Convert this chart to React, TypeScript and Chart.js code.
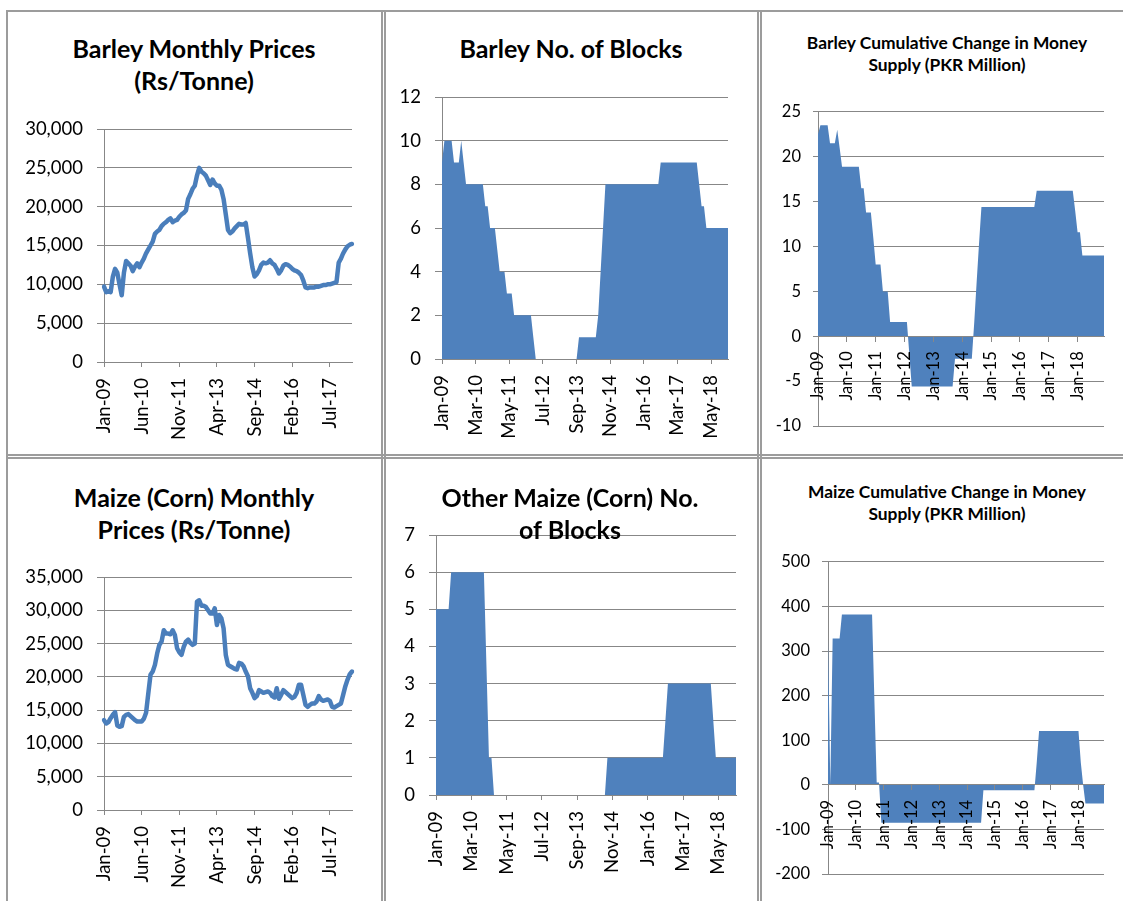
import React, { useEffect, useRef } from "react";
import { Chart, registerables } from "chart.js";
Chart.register(...registerables);

const FONT = "Lato, 'Open Sans', sans-serif";
const GRID = "#878787";
const LINE_BLUE = "#4a7ebb";
const AREA_BLUE = "#4f81bd";
const BORDER = "#9c9c9c";

const MONTHS = ["Jan", "Feb", "Mar", "Apr", "May", "Jun", "Jul", "Aug", "Sep", "Oct", "Nov", "Dec"];
function monthLabels(n: number): string[] {
  const out: string[] = [];
  for (let i = 0; i < n; i++) {
    const yy = 9 + Math.floor(i / 12);
    out.push(MONTHS[i % 12] + "-" + (yy < 10 ? "0" + yy : String(yy)));
  }
  return out;
}

// Categories
const PRICE_MONTHS = monthLabels(113); // Jan-09 .. May-18
const BLOCK_MONTHS = monthLabels(120); // Jan-09 .. Dec-18

// Tick labels
const PRICE_TICKS = ["Jan-09", "Jun-10", "Nov-11", "Apr-13", "Sep-14", "Feb-16", "Jul-17"];
const BLOCK_TICKS = ["Jan-09", "Mar-10", "May-11", "Jul-12", "Sep-13", "Nov-14", "Jan-16", "Mar-17", "May-18"];
const MONEY_TICKS = ["Jan-09", "Jan-10", "Jan-11", "Jan-12", "Jan-13", "Jan-14", "Jan-15", "Jan-16", "Jan-17", "Jan-18"];

// Series values
const barleyPrice = [
  9700, 9000, 9100, 9000, 11000, 12000, 11500, 10000, 8600, 11500,
  13000, 12700, 12400, 11700, 12300, 12700, 12200, 12800, 13300, 14000,
  14500, 15000, 15500, 16500, 16800, 17000, 17500, 17800, 18000, 18300,
  18500, 18000, 18200, 18300, 18700, 19000, 19200, 19500, 21000, 21600,
  22300, 22700, 24000, 25000, 24500, 24300, 24000, 23400, 22800, 23500,
  23000, 22700, 22700, 22200, 21000, 19000, 17000, 16600, 16800, 17200,
  17500, 17800, 17700, 17700, 17900, 16000, 14000, 12200, 11000, 11300,
  11800, 12500, 12800, 12700, 12800, 13100, 12700, 12500, 12000, 11400,
  11800, 12400, 12600, 12500, 12300, 12000, 11800, 11700, 11500, 11200,
  10500, 9600, 9500, 9600, 9600, 9600, 9700, 9700, 9800, 9900,
  9900, 10000, 10000, 10100, 10200, 10300, 12800, 13300, 14000, 14500,
  14900, 15100, 15200,
];

const maizePrice = [
  13500, 13000, 13200, 13800, 14300, 14700, 12700, 12500, 12600, 14000,
  14300, 14400, 14100, 13800, 13500, 13300, 13300, 13300, 13700, 14600,
  17500, 20300, 20800, 21800, 23500, 24800, 25300, 27000, 26500, 26500,
  26400, 27000, 26300, 24300, 23700, 23300, 24500, 25300, 25600, 25100,
  24800, 25000, 31300, 31500, 30700, 30700, 30500, 30000, 29500, 29500,
  30300, 27800, 29300, 28800, 27300, 23300, 21800, 21600, 21400, 21200,
  21100, 22100, 22000, 21600, 20800, 20100, 18300, 17600, 16800, 17100,
  18000, 17800, 17600, 17700, 17800, 17600, 17100, 16900, 18300, 16700,
  17300, 18000, 17700, 17400, 17100, 16800, 17000, 17600, 18800, 18800,
  17300, 15800, 15500, 15800, 16000, 16000, 16300, 17100, 16600, 16400,
  16500, 16600, 16400, 15500, 15400, 15600, 15800, 16000, 17300, 18600,
  19600, 20400, 20800,
];

const barleyBlocks = [
  9, 10, 10, 10, 10, 9, 9, 9, 10, 9,
  8, 8, 8, 8, 8, 8, 8, 8, 7, 7,
  6, 6, 6, 5, 4, 4, 4, 3, 3, 3,
  2, 2, 2, 2, 2, 2, 2, 2, 1, 0,
  0, 0, 0, 0, 0, 0, 0, 0, 0, 0,
  0, 0, 0, 0, 0, 0, 0, 1, 1, 1,
  1, 1, 1, 1, 1, 2, 4, 6, 8, 8,
  8, 8, 8, 8, 8, 8, 8, 8, 8, 8,
  8, 8, 8, 8, 8, 8, 8, 8, 8, 8,
  8, 9, 9, 9, 9, 9, 9, 9, 9, 9,
  9, 9, 9, 9, 9, 9, 9, 8, 7, 7,
  6, 6, 6, 6, 6, 6, 6, 6, 6, 6,
];

const barleyMoney = [
  22.5, 23.5, 23.5, 23.5, 23.5, 21.5, 21.5, 21.5, 23, 21,
  18.9, 18.9, 18.9, 18.9, 18.9, 18.9, 18.9, 18.9, 16.5, 16.5,
  13.8, 13.8, 13.8, 11, 8, 8, 8, 5, 5, 5,
  1.6, 1.6, 1.6, 1.6, 1.6, 1.6, 1.6, 1.6, -2, -5.6,
  -5.6, -5.6, -5.6, -5.6, -5.6, -5.6, -5.6, -5.6, -5.6, -5.6,
  -5.6, -5.6, -5.6, -5.6, -5.6, -5.6, -5.6, -2.5, -2.5, -2.5,
  -2.5, -2.5, -2.5, -2.5, -2.5, 1.5, 6, 10.3, 14.4, 14.4,
  14.4, 14.4, 14.4, 14.4, 14.4, 14.4, 14.4, 14.4, 14.4, 14.4,
  14.4, 14.4, 14.4, 14.4, 14.4, 14.4, 14.4, 14.4, 14.4, 14.4,
  14.4, 16.2, 16.2, 16.2, 16.2, 16.2, 16.2, 16.2, 16.2, 16.2,
  16.2, 16.2, 16.2, 16.2, 16.2, 16.2, 16.2, 14, 11.6, 11.6,
  9, 9, 9, 9, 9, 9, 9, 9, 9, 9,
];

const maizeBlocks = [
  5, 5, 5, 5, 5, 5, 6, 6, 6, 6,
  6, 6, 6, 6, 6, 6, 6, 6, 6, 6,
  3.5, 1, 1, 0, 0, 0, 0, 0, 0, 0,
  0, 0, 0, 0, 0, 0, 0, 0, 0, 0,
  0, 0, 0, 0, 0, 0, 0, 0, 0, 0,
  0, 0, 0, 0, 0, 0, 0, 0, 0, 0,
  0, 0, 0, 0, 0, 0, 0, 0, 1, 1,
  1, 1, 1, 1, 1, 1, 1, 1, 1, 1,
  1, 1, 1, 1, 1, 1, 1, 1, 1, 1,
  1, 2, 3, 3, 3, 3, 3, 3, 3, 3,
  3, 3, 3, 3, 3, 3, 3, 3, 3, 3,
  2, 1, 1, 1, 1, 1, 1, 1, 1, 1,
];

const maizeMoney = [
  328, 0, 328, 328, 328, 328, 382, 382, 382, 382,
  382, 382, 382, 382, 382, 382, 382, 382, 382, 382,
  190, 5, 5, -85, -85, -85, -85, -85, -85, -85,
  -85, -85, -85, -85, -85, -85, -85, -85, -85, -85,
  -85, -85, -85, -85, -85, -85, -85, -85, -85, -85,
  -85, -85, -85, -85, -85, -85, -85, -85, -85, -85,
  -85, -85, -85, -85, -85, -85, -85, -12, -12, -12,
  -12, -12, -12, -12, -12, -12, -12, -12, -12, -12,
  -12, -12, -12, -12, -12, -12, -12, -12, -12, -12,
  50, 121, 121, 121, 121, 121, 121, 121, 121, 121,
  121, 121, 121, 121, 121, 121, 121, 121, 121, 50,
  0, -42, -42, -42, -42, -42, -42, -42, -42, -42,
];

type Spec = {
  labels: string[];
  values: number[];
  ticks: string[];
  kind: "line" | "area";
  yMin: number;
  yMax: number;
  yStep: number;
  thousands?: boolean;
  canvas: { x: number; y: number; w: number; h: number };
  area: { l: number; t: number; r: number; b: number };
  zeroAxis?: boolean;
  fontSize: number;
  yTickLen: number;
  yPad: number;
  xPad: number;
};

function ChartBox({ spec }: { spec: Spec }) {
  const ref = useRef<HTMLCanvasElement | null>(null);
  useEffect(() => {
    const c = spec.canvas;
    const a = spec.area;
    const yWidth = a.l - c.x;
    const padTop = a.t - c.y;
    const padRight = c.x + c.w - a.r;
    const bottomSpace = c.y + c.h - a.b;
    const font = { family: FONT, size: spec.fontSize };
    const chart = new Chart(ref.current as HTMLCanvasElement, {
      type: "line",
      data: {
        labels: spec.labels,
        datasets: [
          {
            data: spec.values,
            borderColor: spec.kind === "line" ? LINE_BLUE : "rgba(0,0,0,0)",
            borderWidth: spec.kind === "line" ? 4.5 : 0,
            backgroundColor: AREA_BLUE,
            fill: spec.kind === "area" ? "origin" : false,
            pointRadius: 0,
            tension: 0,
            borderJoinStyle: "round",
            borderCapStyle: "round",
          } as any,
        ],
      },
      options: {
        animation: false,
        responsive: false,
        maintainAspectRatio: false,
        devicePixelRatio: 1,
        events: [],
        layout: {
          padding: { top: padTop, right: padRight, left: 0, bottom: spec.zeroAxis ? bottomSpace : 0 },
        },
        plugins: { legend: { display: false }, tooltip: { enabled: false }, title: { display: false } },
        scales: {
          x: {
            type: "category",
            position: spec.zeroAxis ? ({ y: 0 } as any) : "bottom",
            offset: false,
            grid: {
              z: 1,
              drawOnChartArea: false,
              drawTicks: true,
              tickLength: 5,
              lineWidth: 1,
              tickColor: (ctx: any) =>
                spec.ticks.includes(spec.labels[ctx.index]) ? GRID : "rgba(0,0,0,0)",
            },
            border: { display: true, color: GRID, width: 1, z: 1 },
            ticks: {
              z: 1,
              autoSkip: false,
              maxRotation: 90,
              minRotation: 90,
              padding: spec.xPad,
              color: "#000",
              font,
              callback: (_v: any, i: number) =>
                spec.ticks.includes(spec.labels[i]) ? spec.labels[i] : "",
            },
            afterFit: (s: any) => {
              if (!spec.zeroAxis) s.height = bottomSpace;
              s.paddingLeft = 0;
              s.paddingRight = 0;
            },
          } as any,
          y: {
            min: spec.yMin,
            max: spec.yMax,
            grid: { color: GRID, lineWidth: 1, drawTicks: true, tickLength: spec.yTickLen },
            border: { display: true, color: GRID, width: 1 },
            ticks: {
              stepSize: spec.yStep,
              padding: spec.yPad,
              color: "#000",
              font,
              callback: (v: any) =>
                spec.thousands ? Number(v).toLocaleString("en-US") : String(v),
            },
            afterFit: (s: any) => {
              s.width = yWidth;
            },
          } as any,
        },
      },
    });
    return () => chart.destroy();
  }, [spec]);
  const c = spec.canvas;
  return (
    <canvas
      ref={ref}
      width={c.w}
      height={c.h}
      style={{ position: "absolute", left: c.x, top: c.y, width: c.w, height: c.h }}
    />
  );
}

function Title({ lines, cx, cy, size, lh }: { lines: string[]; cx: number; cy: number; size: number; lh: number }) {
  return (
    <div
      style={{
        position: "absolute",
        left: cx,
        top: cy - lh / 2,
        transform: "translateX(-50%)",
        textAlign: "center",
        whiteSpace: "nowrap",
        fontFamily: FONT,
        fontWeight: 700,
        fontSize: size,
        lineHeight: lh + "px",
        color: "#000",
      }}
    >
      {lines.map((l, i) => (
        <div key={i}>{l}</div>
      ))}
    </div>
  );
}

const SPECS: Spec[] = [
  {
    labels: PRICE_MONTHS, values: barleyPrice, ticks: PRICE_TICKS, kind: "line",
    yMin: 0, yMax: 30000, yStep: 5000, thousands: true,
    canvas: { x: 10, y: 100, w: 365, h: 350 }, area: { l: 104, t: 129, r: 352, b: 362 },
    fontSize: 18.5, yTickLen: 7, yPad: 14, xPad: 11,
  },
  {
    labels: BLOCK_MONTHS, values: barleyBlocks, ticks: BLOCK_TICKS, kind: "area",
    yMin: 0, yMax: 12, yStep: 2,
    canvas: { x: 388, y: 70, w: 365, h: 380 }, area: { l: 442, t: 97, r: 728, b: 359 },
    fontSize: 18.5, yTickLen: 7, yPad: 14, xPad: 11,
  },
  {
    labels: BLOCK_MONTHS, values: barleyMoney, ticks: MONEY_TICKS, kind: "area",
    yMin: -10, yMax: 25, yStep: 5, zeroAxis: true,
    canvas: { x: 763, y: 90, w: 358, h: 360 }, area: { l: 818, t: 109, r: 1104, b: 426 },
    fontSize: 16.5, yTickLen: 5, yPad: 12, xPad: 10,
  },
  {
    labels: PRICE_MONTHS, values: maizePrice, ticks: PRICE_TICKS, kind: "line",
    yMin: 0, yMax: 35000, yStep: 5000, thousands: true,
    canvas: { x: 10, y: 545, w: 365, h: 350 }, area: { l: 104, t: 577, r: 352, b: 810 },
    fontSize: 18.5, yTickLen: 7, yPad: 14, xPad: 11,
  },
  {
    labels: BLOCK_MONTHS, values: maizeBlocks, ticks: BLOCK_TICKS, kind: "area",
    yMin: 0, yMax: 7, yStep: 1,
    canvas: { x: 388, y: 510, w: 365, h: 385 }, area: { l: 436, t: 529, r: 736, b: 795 },
    fontSize: 18.5, yTickLen: 7, yPad: 14, xPad: 11,
  },
  {
    labels: BLOCK_MONTHS, values: maizeMoney, ticks: MONEY_TICKS, kind: "area",
    yMin: -200, yMax: 500, yStep: 100, zeroAxis: true,
    canvas: { x: 763, y: 540, w: 358, h: 358 }, area: { l: 828, t: 558, r: 1104, b: 874 },
    fontSize: 16.5, yTickLen: 6, yPad: 12, xPad: 10,
  },
];

function Line({ x, y, w, h }: { x: number; y: number; w: number; h: number }) {
  return <div style={{ position: "absolute", left: x, top: y, width: w, height: h, background: BORDER }} />;
}

export default function App() {
  return (
    <div style={{ position: "absolute", left: 0, top: 0, width: 1123, height: 901, overflow: "hidden", background: "#fff" }}>
      <Line x={6} y={10} w={1117} h={2} />
      <Line x={6} y={454} w={1117} h={2} />
      <Line x={6} y={457} w={1117} h={2} />
      <Line x={6} y={10} w={2} h={891} />
      <Line x={381} y={10} w={2} h={891} />
      <Line x={384} y={10} w={2} h={891} />
      <Line x={757} y={10} w={2} h={891} />
      <Line x={760} y={10} w={2} h={891} />
      {SPECS.map((s, i) => (
        <ChartBox key={i} spec={s} />
      ))}
      <Title lines={["Barley Monthly Prices", "(Rs/Tonne)"]} cx={194} cy={48} size={25} lh={32} />
      <Title lines={["Barley No. of Blocks"]} cx={571} cy={48} size={25} lh={32} />
      <Title lines={["Barley Cumulative Change in Money", "Supply (PKR Million)"]} cx={947} cy={43} size={17.4} lh={22} />
      <Title lines={["Maize (Corn) Monthly", "Prices (Rs/Tonne)"]} cx={194} cy={497} size={25} lh={32} />
      <Title lines={["Other Maize (Corn) No.", "of Blocks"]} cx={570} cy={497} size={25} lh={32} />
      <Title lines={["Maize Cumulative Change in Money", "Supply (PKR Million)"]} cx={947} cy={492} size={17.4} lh={22} />
    </div>
  );
}
